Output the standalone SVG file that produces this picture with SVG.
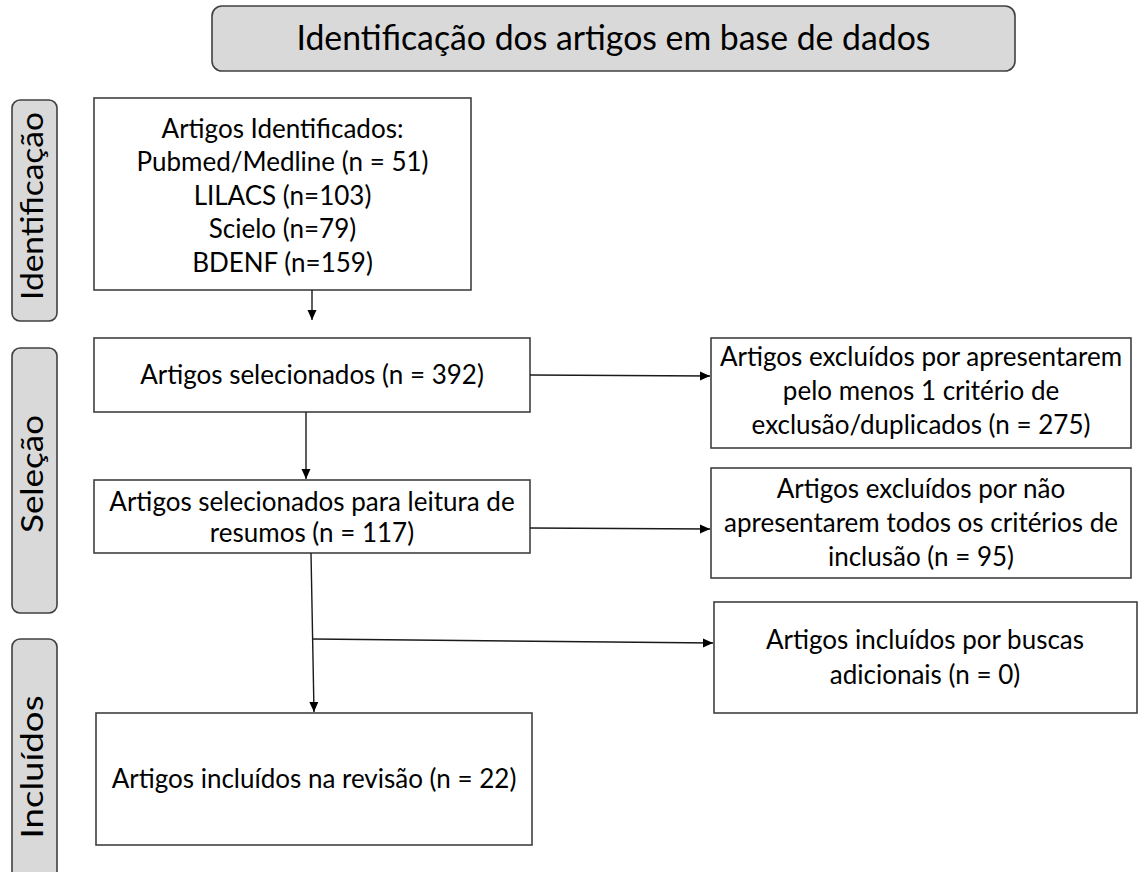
<svg xmlns="http://www.w3.org/2000/svg" width="1139" height="872" viewBox="0 0 1139 872">
<defs>
<marker id="arr" markerWidth="10" markerHeight="10" refX="10" refY="5" orient="auto" markerUnits="userSpaceOnUse">
<path d="M0,0.5 L10,5 L0,9.5 Z" fill="#000"/>
</marker>
<style>
.box{fill:#fff;stroke:#404040;stroke-width:1.6}
.tab{fill:#d9d9d9;stroke:#404040;stroke-width:1.6}
.t{font-family:Lato,"Liberation Sans",sans-serif;font-size:26px;fill:#000;text-anchor:middle}
.tt{font-family:Lato,"Liberation Sans",sans-serif;font-size:30px;fill:#000;text-anchor:middle}
.c{stroke:#1a1a1a;stroke-width:1.4;fill:none}
</style>
</defs>
<rect width="1139" height="872" fill="#fff"/>
<g id="title">
<rect class="tab" x="212" y="6" width="803" height="65" rx="10"/>
<text class="tt" x="613.5" y="50" style="font-size:34px" textLength="634" lengthAdjust="spacingAndGlyphs">Identificação dos artigos em base de dados</text>
</g>
<g id="tab-identificacao">
<rect class="tab" x="12" y="100" width="45" height="221" rx="8"/>
<text class="tt" transform="translate(43,206) rotate(-90)" x="0" y="0" textLength="188" lengthAdjust="spacingAndGlyphs">Identificação</text>
</g>
<g id="tab-selecao">
<rect class="tab" x="12" y="348" width="45" height="265" rx="8"/>
<text class="tt" transform="translate(43,474) rotate(-90)" x="0" y="0" textLength="118" lengthAdjust="spacingAndGlyphs">Seleção</text>
</g>
<g id="tab-incluidos">
<rect class="tab" x="12" y="639" width="45" height="250" rx="8"/>
<text class="tt" transform="translate(43,767) rotate(-90)" x="0" y="0" textLength="143" lengthAdjust="spacingAndGlyphs">Incluídos</text>
</g>
<g id="n1">
<rect class="box" x="94" y="98" width="377" height="192"/>
<text class="t" x="282.5" y="138">Artigos Identificados:</text>
<text class="t" x="282.5" y="171">Pubmed/Medline (n = 51)</text>
<text class="t" x="282.5" y="205">LILACS (n=103)</text>
<text class="t" x="282.5" y="238">Scielo (n=79)</text>
<text class="t" x="282.5" y="272">BDENF (n=159)</text>
</g>
<g id="n2">
<rect class="box" x="94" y="338" width="436" height="74"/>
<text class="t" x="312" y="384">Artigos selecionados (n = 392)</text>
</g>
<g id="n3">
<rect class="box" x="94" y="480" width="436" height="73"/>
<text class="t" x="312" y="511">Artigos selecionados para leitura de</text>
<text class="t" x="312" y="542">resumos (n = 117)</text>
</g>
<g id="n4">
<rect class="box" x="96" y="713" width="436" height="132"/>
<text class="t" x="314" y="788">Artigos incluídos na revisão (n = 22)</text>
</g>
<g id="nA">
<rect class="box" x="711" y="338" width="420" height="110"/>
<text class="t" x="921" y="366">Artigos excluídos por apresentarem</text>
<text class="t" x="921" y="400">pelo menos 1 critério de</text>
<text class="t" x="921" y="434">exclusão/duplicados (n = 275)</text>
</g>
<g id="nB">
<rect class="box" x="711" y="468" width="420" height="110"/>
<text class="t" x="921" y="498">Artigos excluídos por não</text>
<text class="t" x="921" y="532">apresentarem todos os critérios de</text>
<text class="t" x="921" y="566">inclusão (n = 95)</text>
</g>
<g id="nC">
<rect class="box" x="714" y="602" width="423" height="111"/>
<text class="t" x="925" y="649">Artigos incluídos por buscas</text>
<text class="t" x="925" y="684">adicionais (n = 0)</text>
</g>
<g id="connectors">
<line class="c" x1="312" y1="290" x2="312" y2="320" marker-end="url(#arr)"/>
<line class="c" x1="306" y1="412" x2="306" y2="479" marker-end="url(#arr)"/>
<line class="c" x1="311" y1="553" x2="314" y2="712" marker-end="url(#arr)"/>
<line class="c" x1="530" y1="375" x2="710" y2="376" marker-end="url(#arr)"/>
<line class="c" x1="530" y1="528" x2="710" y2="529" marker-end="url(#arr)"/>
<line class="c" x1="313" y1="639" x2="713" y2="643" marker-end="url(#arr)"/>
</g>
</svg>
